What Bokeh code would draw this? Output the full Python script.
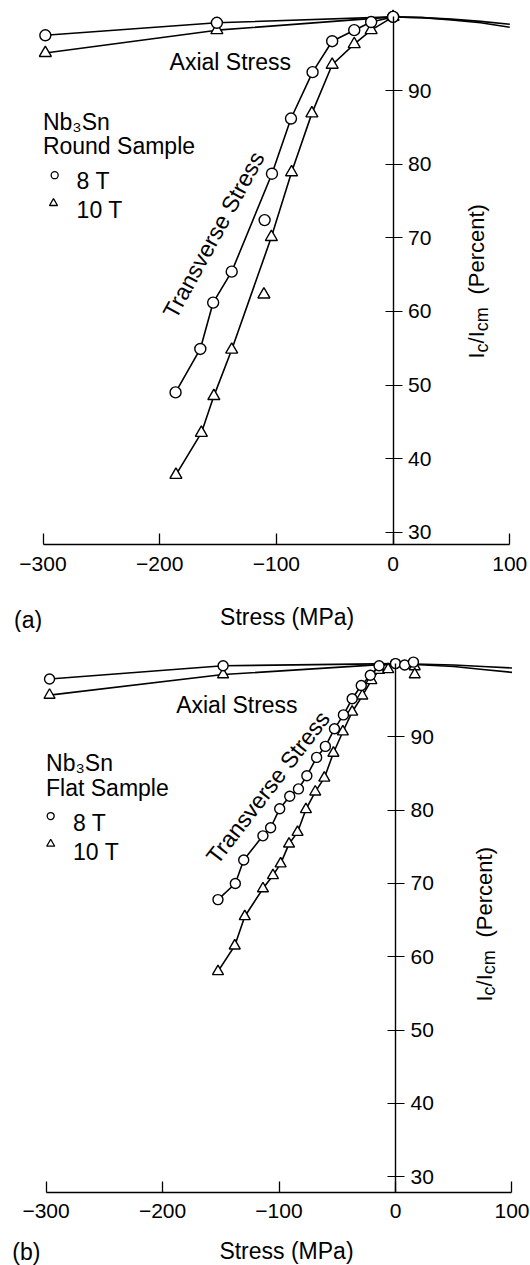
import math
from bokeh.plotting import figure
from bokeh.layouts import column
from bokeh.models import FixedTicker, Label, Range1d
from bokeh.embed import file_html
from bokeh.resources import INLINE

FONT = "Liberation Sans"

# ---------------- data: (a) round sample ----------------
a_axial8_x = [-298, -151, 0]
a_axial8_y = [97.5, 99.2, 100.0]
a_axial10_x = [-298, -151]
a_axial10_y = [95.1, 98.2]
a_axcurve_x = [-298, -151, 0, 25, 50, 75, 100]
a_axcurve8_y = [97.5, 99.2, 100.0, 99.9, 99.7, 99.4, 99.0]
a_axcurve10_y = [95.1, 98.2, 100.0, 99.9, 99.6, 99.2, 98.6]

a_tr8_x = [-186.4, -165.2, -154.2, -138.3, -103.8, -87.5, -69.0, -52.2, -33.3, -18.8, 0]
a_tr8_y = [49.0, 54.9, 61.2, 65.4, 78.7, 86.2, 92.5, 96.7, 98.2, 99.3, 100.0]
a_tr8_out_x = [-110.1]
a_tr8_out_y = [72.4]
a_tr10_x = [-186.1, -164.3, -153.6, -138.3, -104.3, -87.0, -69.6, -52.2, -33.3, -18.8, 0]
a_tr10_y = [37.8, 43.5, 48.5, 54.8, 70.1, 78.9, 86.9, 93.5, 96.3, 98.2, 100.0]
a_tr10_out_x = [-110.7]
a_tr10_out_y = [62.3]

# ---------------- data: (b) flat sample ----------------
b_axial8_x = [-297, -148, 0]
b_axial8_y = [97.9, 99.7, 100.0]
b_axial10_x = [-297, -148]
b_axial10_y = [95.7, 98.5]
b_axcurve_x = [-297, -148, 0, 25, 50, 75, 100]
b_axcurve8_y = [97.9, 99.7, 100.0, 99.9, 99.8, 99.6, 99.4]
b_axcurve10_y = [95.7, 98.5, 100.0, 99.8, 99.6, 99.2, 98.8]

b_tr8_x = [-152.4, -137.5, -130.3, -113.8, -107.2, -99.4, -90.8, -83.3, -76.1, -67.7,
           -60.2, -52.4, -44.7, -37.2, -29.4, -21.6, -14.1, 0]
b_tr8_y = [67.8, 70.0, 73.2, 76.5, 77.6, 80.2, 81.9, 82.9, 84.7, 87.2,
           88.7, 91.1, 93.0, 95.2, 97.0, 98.4, 99.7, 100.0]
b_tr8_pos_x = [7.9, 15.4]
b_tr8_pos_y = [99.8, 100.2]
b_tr10_x = [-152.4, -138.0, -129.4, -113.8, -105.2, -98.6, -91.4, -84.1, -76.9, -68.9,
            -61.1, -53.3, -45.2, -37.2, -28.5, -20.7, -14.1, -6.3]
b_tr10_y = [58.0, 61.5, 65.5, 69.3, 71.1, 72.7, 75.4, 77.0, 80.1, 82.5,
            84.4, 87.8, 90.7, 93.4, 95.6, 97.7, 99.1, 99.2]
b_tr10_pos_x = [16.5, 16.5]
b_tr10_pos_y = [99.6, 98.5]

x_ticks = [-300, -200, -100, 0, 100]
x_tick_labels = {-300: "\u2212300", -200: "\u2212200", -100: "\u2212100", 0: "0", 100: "100"}
y_ticks = [30, 40, 50, 60, 70, 80, 90]
x_title = "Stress (MPa)"


def lbl(p, text, x, y, size="23px", angle=0.0, align="left", baseline="alphabetic",
        xoff=0, yoff=0):
    p.add_layout(Label(x=x, y=y, text=text, text_font=FONT, text_font_size=size,
                       text_color="black", angle=angle, text_align=align,
                       text_baseline=baseline, x_offset=xoff, y_offset=yoff))


def make_panel(xr, yr, height, x_axis_at):
    p = figure(width=530, height=height, x_range=Range1d(*xr), y_range=Range1d(*yr),
               output_backend="svg", toolbar_location=None, title=None,
               y_axis_location="right", min_border=0, min_border_left=0,
               min_border_right=0, min_border_top=0, min_border_bottom=0)
    p.outline_line_color = None
    p.xgrid.visible = False
    p.ygrid.visible = False
    p.background_fill_color = "white"
    p.border_fill_color = "white"

    xa = p.xaxis[0]
    xa.fixed_location = x_axis_at
    xa.ticker = FixedTicker(ticks=x_ticks)
    xa.major_label_overrides = x_tick_labels
    xa.bounds = (-300, 100)
    xa.minor_tick_line_color = None
    xa.major_tick_in = 11
    xa.major_tick_out = 0
    xa.axis_line_width = 1.6
    xa.major_tick_line_width = 1.3
    xa.major_label_standoff = 12
    xa.major_label_text_font = FONT
    xa.major_label_text_font_size = "21px"
    xa.major_label_text_color = "black"

    ya = p.yaxis[0]
    ya.fixed_location = 0
    ya.ticker = FixedTicker(ticks=y_ticks)
    ya.bounds = (x_axis_at, 100)
    ya.minor_tick_line_color = None
    ya.major_tick_in = 8
    ya.major_tick_out = 9
    ya.axis_line_width = 1.4
    ya.major_tick_line_width = 1.2
    ya.major_label_standoff = 6
    ya.major_label_text_font = FONT
    ya.major_label_text_font_size = "21px"
    ya.major_label_text_color = "black"
    return p


def ylabel(p, y0, xoff):
    pieces = [("I", "22px", 0, 0), ("c", "18px", 5, 6.1), ("/I", "22px", 0, 15.1),
              ("cm", "18px", 5, 27.3), ("(Percent)", "22px", 0, 64.0)]
    for t, s, dx, along in pieces:
        lbl(p, t, 0, y0, size=s, angle=math.pi / 2, xoff=xoff + dx, yoff=along)


def draw(p, ax_x, ax8, ax10, m8, m10, t8x, t8y, t10x, t10y, csize, tsize):
    lw = 1.6
    p.line(ax_x, ax8, line_color="black", line_width=lw)
    p.line(ax_x, ax10, line_color="black", line_width=lw)
    p.line(t8x, t8y, line_color="black", line_width=lw)
    p.line(t10x, t10y, line_color="black", line_width=lw)
    for xs, ys in m10:
        p.scatter(xs, ys, marker="triangle", size=tsize, fill_color="white",
                  line_color="black", line_width=1.4)
    for xs, ys in m8:
        p.scatter(xs, ys, marker="circle", size=csize, fill_color="white",
                  line_color="black", line_width=1.4)


# ---------------- panel (a) ----------------
A_XAXIS = 28.34
pa = make_panel((-336.42, 117.74), (16.39, 102.23), 632, A_XAXIS)
draw(pa, a_axcurve_x, a_axcurve8_y, a_axcurve10_y,
     [(a_axial8_x, a_axial8_y), (a_tr8_x, a_tr8_y), (a_tr8_out_x, a_tr8_out_y)],
     [(a_axial10_x, a_axial10_y), (a_tr10_x, a_tr10_y), (a_tr10_out_x, a_tr10_out_y)],
     a_tr8_x, a_tr8_y, a_tr10_x, a_tr10_y, 11, 12)
lbl(pa, "Axial Stress", -191.5, 93.9)
lbl(pa, "Nb\u2083Sn", -300.1, 85.7)
lbl(pa, "Round Sample", -300.1, 82.5)
pa.scatter([-290], [78.5], marker="circle", size=7, fill_color="white", line_color="black", line_width=1.3)
lbl(pa, "8 T", -271.2, 77.7)
pa.scatter([-291], [74.7], marker="triangle", size=8, fill_color="white", line_color="black", line_width=1.3)
lbl(pa, "10 T", -271.2, 73.8)
lbl(pa, "Transverse Stress", -153.8, 70.4, angle=math.radians(61.3), align="center", baseline="middle")
ylabel(pa, 53.6, 83.5)
lbl(pa, x_title, -90.8, A_XAXIS, align="center", yoff=-72)
lbl(pa, "(a)", -324.8, A_XAXIS, yoff=-75)

# ---------------- panel (b) ----------------
B_XAXIS = 27.84
pb = make_panel((-339.1, 115.9), (17.88, 104.24), 633, B_XAXIS)
draw(pb, b_axcurve_x, b_axcurve8_y, b_axcurve10_y,
     [(b_axial8_x, b_axial8_y), (b_tr8_x, b_tr8_y), (b_tr8_pos_x, b_tr8_pos_y)],
     [(b_axial10_x, b_axial10_y), (b_tr10_x, b_tr10_y), (b_tr10_pos_x, b_tr10_pos_y)],
     b_tr8_x, b_tr8_y, b_tr10_x, b_tr10_y, 10, 11)
lbl(pb, "Axial Stress", -188.3, 94.4)
lbl(pb, "Nb\u2083Sn", -300.0, 86.4)
lbl(pb, "Flat Sample", -300.0, 83.0)
pb.scatter([-296], [79.2], marker="circle", size=7, fill_color="white", line_color="black", line_width=1.3)
lbl(pb, "8 T", -276.8, 78.2)
pb.scatter([-296], [75.4], marker="triangle", size=8, fill_color="white", line_color="black", line_width=1.3)
lbl(pb, "10 T", -276.8, 74.3)
lbl(pb, "Transverse Stress", -109.5, 83.1, angle=math.radians(52.3), align="center", baseline="middle")
ylabel(pb, 53.9, 88.6)
lbl(pb, x_title, -93.6, B_XAXIS, align="center", yoff=-59)
lbl(pb, "(b)", -329.0, B_XAXIS, yoff=-60)

layout = column(pa, pb, spacing=0)
open("out.html", "w").write(file_html(layout, INLINE))
